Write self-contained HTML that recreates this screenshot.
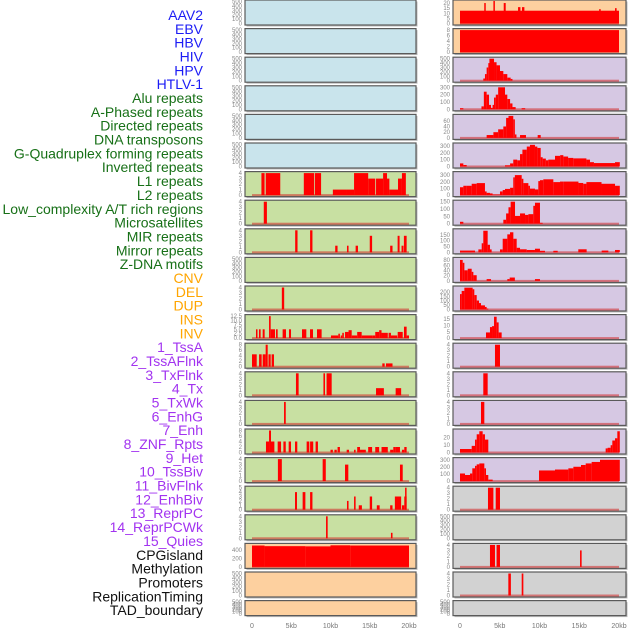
<!DOCTYPE html>
<html><head><meta charset="utf-8">
<style>
html,body{margin:0;padding:0;background:#fff;}
svg{display:block;font-family:"Liberation Sans",sans-serif;}
</style></head>
<body>
<svg id="chart" width="630" height="630" viewBox="0 0 630 630"></svg>
<script>
// ---------- data ----------
const labelNames = ["AAV2","EBV","HBV","HIV","HPV","HTLV-1","Alu repeats","A-Phased repeats","Directed repeats","DNA transposons","G-Quadruplex forming repeats","Inverted repeats","L1 repeats","L2 repeats","Low_complexity A/T rich regions","Microsatellites","MIR repeats","Mirror repeats","Z-DNA motifs","CNV","DEL","DUP","INS","INV","1_TssA","2_TssAFlnk","3_TxFlnk","4_Tx","5_TxWk","6_EnhG","7_Enh","8_ZNF_Rpts","9_Het","10_TssBiv","11_BivFlnk","12_EnhBiv","13_ReprPC","14_ReprPCWk","15_Quies","CPGisland","Methylation","Promoters","ReplicationTiming","TAD_boundary"];
const labelGroups = [0,0,0,0,0,0,1,1,1,1,1,1,1,1,1,1,1,1,1,2,2,2,2,2,3,3,3,3,3,3,3,3,3,3,3,3,3,3,3,4,4,4,4,4];
const groupColors = ["#1c1cf5","#177017","#ffa500","#a233f0","#111111"];
const xTicks = [0,5,10,15,20];
const xTickLabels = ["0","5kb","10kb","15kb","20kb"];
const leftBg = ["blue","blue","blue","blue","blue","blue","green","green","green","green","green","green","green","green","green","green","green","green","green","orange","orange","orange"];
const rightBg = ["orange","orange","purple","purple","purple","purple","purple","purple","purple","purple","purple","purple","purple","purple","purple","purple","purple","grey","grey","grey","grey","grey"];
const leftYMax = [500,500,500,500,500,500,4,4,4,500,4,12.5,8,4,4,8,4,5,4,525,500,500];
const rightYMax = [21.5,8,500,300,77,320,330,150,190,85,250,17.5,4,4,4,29,310,4,500,4,4,500];
const leftTicks = ["0,100,200,300,400,500","0,100,200,300,400,500","0,100,200,300,400,500","0,100,200,300,400,500","0,100,200,300,400,500","0,100,200,300,400,500","0,1,2,3,4","0,1,2,3,4","0,1,2,3,4","0,100,200,300,400,500","0,1,2,3,4","0.0,2.5,5.0,7.5,10.0,12.5","0,2,4,6,8","0,1,2,3,4","0,1,2,3,4","0,2,4,6,8","0,1,2,3,4","0,1,2,3,4,5","0,1,2,3,4","0,200,400","0,100,200,300,400,500","0,100,200,300,400,500"];
const rightTicks = ["0,5,10,15,20","0,2,4,6,8","0,100,200,300,400,500","0,100,200,300","0,20,40,60","0,100,200,300","0,100,200,300","0,50,100,150","0,50,100,150","0,20,40,60,80","0,50,100,150,200","0,5,10,15","0,1,2,3,4","0,1,2,3,4","0,1,2,3,4","0,10,20","0,100,200,300","0,1,2,3,4","0,100,200,300,400,500","0,1,2,3,4","0,1,2,3,4","0,100,200,300,400,500"];
// bars: [startKb, endKb, value]
const L_L1 = [[1.2,1.6,4],[1.75,3.6,4],[6.6,7.9,4],[8.0,8.8,4],[10.3,12.1,1],[12.1,13,1],[13,14.8,4],[14.8,15.7,3],[15.8,16.7,3],[16.7,17.2,4],[17.2,17.5,3],[17.5,18.6,1],[18.6,19.1,3],[19.1,19.6,4]];
const L_L2 = [[1.5,1.9,4]];
const L_Low = [[5.5,5.8,4],[7.4,7.7,4],[10.6,10.9,1.2],[12.1,12.3,1.2],[13.2,13.5,1.2],[15,15.3,3],[17.6,17.9,1.2],[18.55,18.8,3],[19.05,19.3,1.2],[19.35,19.7,3]];
const L_MIR = [[3.8,4.1,4]];
const L_Mirror = [[0.51,0.68,5],[0.89,1.1,5],[1.36,1.61,5],[2.17,2.38,12.5],[2.38,2.93,5],[3.06,3.27,5],[3.9,4.33,5],[4.71,4.97,5],[6.37,6.92,5],[7.39,7.77,5],[8.28,8.87,5],[10.06,11.0,1.5],[11.0,11.2,2.5],[11.3,11.5,1.5],[11.5,11.7,3],[11.85,12.3,3.5],[12.3,12.7,4.5],[12.7,13.4,1.5],[13.4,13.97,3.5],[13.97,15.37,1.5],[15.37,15.7,1.5],[15.7,16.2,3.5],[16.2,16.5,4.5],[16.5,17.3,3],[17.4,17.7,3],[17.7,18.5,1.5],[18.56,19.2,3.5],[19.36,19.7,6.5],[19.7,20,1.5]];
const L_TssA = [[0,0.6,4.5],[0.9,1.23,4.5],[1.36,1.74,4.5],[1.74,2.0,8],[2.1,2.38,4.5],[2.5,2.8,4.5],[16.6,16.9,1.2],[17.07,17.9,1.2]];
const L_TssAFlnk = [[5.6,5.94,4],[9.1,9.3,4],[9.5,10.15,4],[15.8,16.8,1.3],[18.3,19,1.3]];
const L_TxFlnk = [[4.08,4.3,4]];
const L_Tx = [[1.78,2.17,4],[2.17,2.42,8],[2.42,2.85,4],[3.27,3.7,4],[4.0,4.3,4],[4.67,4.97,4],[5.48,5.77,4],[6.96,7.3,4],[7.4,7.8,4],[8.1,8.4,4],[10.0,10.3,1],[10.5,10.8,1],[10.9,11.2,2],[12.06,12.36,1],[13.0,13.2,1],[13.4,13.76,2],[13.76,14.5,1],[14.8,15.3,2],[15.7,16.2,2],[16.5,17.3,2],[17.6,18.0,1],[18.0,18.3,2],[18.3,18.85,2],[19.1,19.4,1],[19.4,19.7,2]];
const L_TxWk = [[3.3,3.8,4],[9.0,9.4,4],[11.85,12.27,3],[18.85,19.2,3]];
const L_EnhG = [[5.48,5.73,4],[6.45,6.8,4],[7.4,7.7,4],[12.1,12.3,2],[13.0,13.2,3],[13.6,14.0,1],[15.0,15.3,3],[15.9,16.26,1],[17.6,17.9,1],[18.2,19.0,3],[19.1,19.4,1],[19.4,19.7,3],[19.5,19.6,5]];
const L_Enh = [[9.43,9.64,4],[17.7,17.9,1]];
const L_CPG = [[0,1.6,510],[1.6,6.8,495],[6.8,10,490],[10,12.5,515],[12.5,20,510]];
const R_AAV2 = [[0,20,12.5],[3.05,3.2,20],[4.2,4.35,22],[5.5,5.75,20],[7.3,7.6,16],[7.8,8.1,16],[17.5,17.7,14],[19.5,19.7,15]];
const R_EBV = [[0,20,8]];
const R_HBV = [[2.93,3.14,50],[3.14,3.35,150],[3.35,3.56,300],[3.56,3.7,400],[3.7,4.28,500],[4.28,4.6,420],[4.6,5.03,350],[5.03,5.45,220],[5.45,5.95,150],[5.95,6.37,70],[6.37,6.6,40]];
const R_HIV = [[0,0.42,15],[2.7,3.0,40],[3.0,3.35,240],[3.35,3.65,200],[3.65,3.9,60],[3.9,4.1,20],[4.1,4.28,60],[4.28,4.5,160],[4.5,4.8,200],[4.8,5.66,300],[5.66,5.95,200],[5.95,6.3,140],[6.3,6.6,80],[6.6,7.0,30],[7.75,8.2,15]];
const R_HPV = [[3.35,4.2,10],[4.2,4.8,20],[4.8,5.45,30],[5.45,5.8,40],[5.8,6.1,70],[6.1,6.7,77],[6.7,6.9,65],[6.9,7.1,12],[7.55,8.3,10],[9.77,10.15,10]];
const R_HTLV = [[0,0.42,45],[0.42,0.84,22],[5.66,6.3,18],[6.3,6.7,45],[6.7,7.2,100],[7.2,7.55,90],[7.55,7.85,180],[7.85,8.4,245],[8.4,8.8,290],[8.8,9.43,315],[9.43,9.73,290],[9.73,10.15,270],[10.15,10.4,135],[10.4,10.8,115],[10.8,11.1,90],[11.1,11.95,100],[11.95,12.6,155],[12.6,13,165],[13,13.6,145],[13.6,14.25,125],[14.25,15.9,118],[15.9,16.35,100],[16.35,16.85,63],[16.85,19.5,50],[19.5,20.1,63]];
const R_Alu = [[0,0.42,118],[0.42,0.84,140],[0.84,1.47,140],[1.47,2.1,170],[2.1,3.14,180],[3.14,3.35,55],[3.35,3.77,34],[3.77,4.1,25],[4.1,5.03,8],[5.03,5.37,55],[5.37,5.66,76],[5.66,6.3,93],[6.3,6.7,110],[6.7,6.9,266],[6.9,7.76,300],[7.76,7.97,245],[7.97,8.6,180],[8.6,8.8,140],[8.8,9.43,97],[9.43,9.85,85],[9.85,10.06,210],[10.06,10.48,224],[10.48,11.74,237],[11.74,12.58,195],[12.58,13.0,203],[13.0,14.9,203],[14.9,15.5,182],[15.5,15.9,170],[15.9,17.8,195],[17.8,19.5,170],[19.5,20.1,140]];
const R_APhased = [[0,0.42,13],[5.45,5.8,27],[5.8,6.1,70],[6.1,6.37,112],[6.37,6.92,150],[6.92,7.55,53],[7.55,8.18,70],[8.18,8.6,60],[8.6,9.22,65],[9.22,9.43,122],[9.43,10.06,143],[10.06,10.4,6]];
const R_Directed = [[0,1.89,15],[2.31,2.73,25],[2.73,2.93,78],[2.93,3.48,186],[3.48,3.77,65],[3.77,3.98,25],[5.03,5.37,25],[5.37,5.95,117],[5.95,6.29,155],[6.29,6.71,173],[6.71,7.13,117],[7.13,7.55,39],[7.55,8.39,26],[8.39,9.43,20],[9.43,10.06,31],[10.06,10.69,13],[11.74,12.29,13],[14.88,15.93,26],[17.82,18.66,15],[19.5,20.1,20]];
const R_DNA = [[0,0.34,81],[0.34,0.55,70],[0.55,0.97,41],[0.97,1.47,47],[1.47,1.68,35],[1.68,2.1,22],[3.35,3.9,7],[5.95,6.25,7],[6.25,6.9,13],[9.43,10.06,7]];
const R_GQuad = [[0,0.21,175],[0.21,0.55,211],[0.55,1.59,248],[1.59,1.8,230],[1.8,2.1,164],[2.1,2.39,102],[2.39,2.64,73],[2.64,3.14,47],[3.14,3.35,29],[3.35,3.56,11]];
const R_Inverted = [[3.27,3.77,4.5],[3.77,4.03,8.75],[4.03,4.28,9.5],[4.28,4.61,17],[4.61,4.86,12.5],[4.86,5.24,4.5]];
const R_L1 = [[4.4,5.03,4]];
const R_L2 = [[2.93,3.48,4]];
const R_LowC = [[2.64,3.06,4]];
const R_Micro = [[0,1.47,4.6],[1.47,1.89,8.75],[1.89,2.1,17],[2.1,2.43,24],[2.43,2.85,28],[2.85,3.14,24],[3.14,3.56,17],[18.32,18.57,5.4],[18.57,18.95,6.25],[18.95,19.16,9.6],[19.16,19.5,15.8],[19.5,19.79,18.75],[19.79,20.1,28]];
const R_MIR = [[0,0.63,107],[0.63,1.26,86],[1.26,1.55,107],[1.55,1.89,180],[1.89,2.1,215],[2.1,2.43,236],[2.43,3.06,249],[3.06,3.27,180],[3.27,3.56,86],[3.56,4.11,21],[9.94,11.95,150],[11.95,13.63,163],[13.63,14.26,180],[14.26,15.22,202],[15.22,15.81,227],[15.81,16.56,249],[16.56,17.61,270],[17.61,20.1,300]];
const R_Mirror = [[3.52,4.2,4],[4.49,5.03,4]];
const R_INV = [[3.77,4.4,4],[4.6,5.03,4],[15.1,15.3,3]];
const R_TssA = [[6.08,6.4,4],[7.76,7.97,4]];
const leftData = [null,null,null,null,null,null,L_L1,L_L2,L_Low,null,L_MIR,L_Mirror,L_TssA,L_TssAFlnk,L_TxFlnk,L_Tx,L_TxWk,L_EnhG,L_Enh,L_CPG,null,null];
const rightData = [R_AAV2,R_EBV,R_HBV,R_HIV,R_HPV,R_HTLV,R_Alu,R_APhased,R_Directed,R_DNA,R_GQuad,R_Inverted,R_L1,R_L2,R_LowC,R_Micro,R_MIR,R_Mirror,null,R_INV,R_TssA,null];

// ---------- layout ----------
const NS = "http://www.w3.org/2000/svg";
const svg = document.getElementById("chart");
const bgColors = {blue:"#c9e4ec",green:"#c8e0a2",orange:"#fdd09f",purple:"#d6c8e3",grey:"#d2d2d2"};
const cols = [
  {x:245,w:171,x0:252,kb:7.85,data:leftData,ymax:leftYMax,ticks:leftTicks,bg:leftBg,name:"left"},
  {x:453,w:173,x0:460,kb:7.95,data:rightData,ymax:rightYMax,ticks:rightTicks,bg:rightBg,name:"right"}
];
function rowTop(i){return i*28.6;}
function rowH(i){return i===21?15:25;}
function mk(tag,attrs,parent){const e=document.createElementNS(NS,tag);for(const k in attrs)e.setAttribute(k,attrs[k]);(parent||svg).appendChild(e);return e;}

// labels
labelNames.forEach((t,i)=>{
  const e=mk("text",{x:203,y:15+i*13.84+5,"text-anchor":"end","font-size":"14",fill:groupColors[labelGroups[i]]});
  
  
  e.textContent=t;
});

cols.forEach(c=>{
  const xs=kb=>c.x0+kb*c.kb;
  for(let i=0;i<22;i++){
    const top=rowTop(i),h=rowH(i),ymax=c.ymax[i];
    const ys=v=>top+h-1.5-(v/ymax)*(h-3);
    const g=mk("g",{});
    
    
    mk("rect",{x:c.x+1.5,y:top+1.5,width:c.w,height:h,fill:"#bbbbbb"},g);
    mk("rect",{x:c.x,y:top,width:c.w,height:h,fill:bgColors[c.bg[i]],stroke:"#5a5a5a","stroke-width":1.2},g);
    const bars=c.data[i];
    if(bars){
      mk("rect",{x:xs(0),y:ys(0)-1,width:xs(20)-xs(0),height:2,fill:"rgba(210,40,40,0.55)"},g);
      bars.forEach(b=>{
        const r=mk("rect",{x:xs(b[0]),y:ys(b[2]),width:Math.max(1.5,xs(b[1])-xs(b[0])),height:ys(0)-ys(b[2]),fill:"#ff0000"},g);
        
        
      });
    }
    c.ticks[i].split(",").forEach(t=>{
      const v=parseFloat(t);
      const e=mk("text",{x:c.x-3,y:ys(v)+2,"text-anchor":"end","font-size":"6",fill:"#888"},g);
      
      
      e.textContent=t;
    });
  }
  xTicks.forEach((k,j)=>{
    const e=mk("text",{x:xs(k),y:628,"text-anchor":"middle","font-size":"7",fill:"#777"});
    
    
    e.textContent=xTickLabels[j];
  });
});
</script>
</body></html>
